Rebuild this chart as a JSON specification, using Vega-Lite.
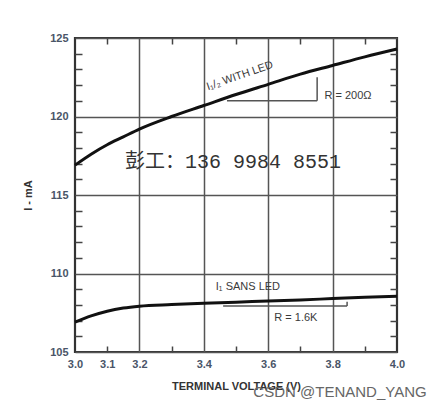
{
  "$schema": "https://vega.github.io/schema/vega-lite/v6.json",
  "width": 322,
  "height": 314,
  "autosize": {"type": "none"},
  "padding": {"left": 75, "top": 38, "right": 47, "bottom": 54},
  "background": "white",
  "config": {
    "view": {"stroke": "#333333", "strokeWidth": 2.2},
    "axis": {
      "labelFont": "Liberation Sans", "labelFontWeight": "bold", "labelFontSize": 11, "labelColor": "#4a5568", "labelFlush": false, "labelOverlap": false,
      "titleFont": "Liberation Sans", "titleFontWeight": "bold", "titleFontSize": 11, "titleColor": "#333333",
      "gridColor": "#555555", "gridWidth": 1.5, "gridOpacity": 1,
      "tickColor": "#444444", "tickWidth": 1.5
    }
  },
  "datasets": {
    "curves": [
      {"series": "I1/2", "v": 3.0, "i": 116.9}, {"series": "I1/2", "v": 3.05, "i": 117.6}, {"series": "I1/2", "v": 3.1, "i": 118.2},
      {"series": "I1/2", "v": 3.15, "i": 118.7}, {"series": "I1/2", "v": 3.2, "i": 119.2}, {"series": "I1/2", "v": 3.3, "i": 120.0},
      {"series": "I1/2", "v": 3.4, "i": 120.7}, {"series": "I1/2", "v": 3.5, "i": 121.4}, {"series": "I1/2", "v": 3.6, "i": 122.05},
      {"series": "I1/2", "v": 3.7, "i": 122.7}, {"series": "I1/2", "v": 3.8, "i": 123.25}, {"series": "I1/2", "v": 3.9, "i": 123.8},
      {"series": "I1/2", "v": 4.0, "i": 124.3},
      {"series": "I1", "v": 3.0, "i": 106.9}, {"series": "I1", "v": 3.05, "i": 107.3}, {"series": "I1", "v": 3.1, "i": 107.6},
      {"series": "I1", "v": 3.15, "i": 107.8}, {"series": "I1", "v": 3.2, "i": 107.92}, {"series": "I1", "v": 3.3, "i": 108.02},
      {"series": "I1", "v": 3.4, "i": 108.1}, {"series": "I1", "v": 3.5, "i": 108.17}, {"series": "I1", "v": 3.6, "i": 108.25},
      {"series": "I1", "v": 3.7, "i": 108.32}, {"series": "I1", "v": 3.8, "i": 108.4}, {"series": "I1", "v": 3.9, "i": 108.48},
      {"series": "I1", "v": 4.0, "i": 108.55}
    ],
    "brackets": [
      {"x1": 3.472, "x2": 3.752, "y1": 121.0, "y2": 121.0},
      {"x1": 3.752, "x2": 3.752, "y1": 121.0, "y2": 122.5},
      {"x1": 3.46, "x2": 3.845, "y1": 107.93, "y2": 107.93},
      {"x1": 3.845, "x2": 3.845, "y1": 107.93, "y2": 108.2}
    ],
    "notes": [
      {"x": 3.848, "y": 121.31, "label": "R = 200Ω"},
      {"x": 3.537, "y": 109.14, "label": "I₁ SANS LED"},
      {"x": 3.686, "y": 107.17, "label": "R = 1.6K"}
    ],
    "rotnote": [{"x": 3.512, "y": 122.58, "label": "I₁/₂ WITH LED"}],
    "wm1": [{"x": 3.491, "y": 117.1, "label": "彭工：136 9984 8551"}],
    "wm2": [{"x": 3.823, "y": 102.45, "label": "CSDN @TENAND_YANG"}]
  },
  "resolve": {"axis": {"x": "independent", "y": "independent"}},
  "layer": [
    {
      "data": {"name": "curves"},
      "mark": {"type": "line", "color": "#111111", "strokeWidth": 3, "interpolate": "monotone"},
      "encoding": {
        "x": {"field": "v", "type": "quantitative", "scale": {"domain": [3, 4], "nice": false, "zero": false},
          "axis": {"orient": "bottom", "values": [3.0, 3.1, 3.2, 3.4, 3.6, 3.8, 4.0], "format": ".1f", "ticks": false, "grid": false, "domain": false,
            "labelPadding": 6, "title": "TERMINAL VOLTAGE (V)", "titlePadding": 11}},
        "y": {"field": "i", "type": "quantitative", "scale": {"domain": [105, 125], "nice": false, "zero": false},
          "axis": {"orient": "left", "values": [105, 110, 115, 120, 125], "ticks": false, "grid": true, "domain": false,
            "labelPadding": 7, "title": "I - mA", "titlePadding": 16}},
        "detail": {"field": "series"}
      }
    },
    {
      "data": {"name": "notes"},
      "mark": {"type": "text", "font": "Liberation Sans", "fontSize": 11, "color": "#3a3a3a"},
      "encoding": {
        "x": {"field": "x", "type": "quantitative", "scale": {"domain": [3, 4], "nice": false, "zero": false},
          "axis": {"orient": "bottom", "values": [3.2, 3.4, 3.6, 3.8], "grid": true, "labels": false, "ticks": false, "domain": false, "title": null}},
        "y": {"field": "y", "type": "quantitative", "scale": {"domain": [105, 125], "nice": false, "zero": false},
          "axis": {"orient": "left", "values": [106, 107, 108, 109, 111, 112, 113, 114, 116, 117, 118, 119, 121, 122, 123, 124],
            "ticks": true, "tickSize": -7, "labels": false, "grid": false, "domain": false, "title": null}},
        "text": {"field": "label"}
      }
    },
    {
      "data": {"name": "brackets"},
      "mark": {"type": "rule", "color": "#555555", "strokeWidth": 1.5},
      "encoding": {
        "x": {"field": "x1", "type": "quantitative", "scale": {"domain": [3, 4], "nice": false, "zero": false},
          "axis": {"orient": "bottom", "values": [3.1, 3.3, 3.5, 3.7, 3.9], "ticks": true, "tickSize": -6, "labels": false, "grid": false, "domain": false, "title": null}},
        "x2": {"field": "x2"},
        "y": {"field": "y1", "type": "quantitative", "scale": {"domain": [105, 125], "nice": false, "zero": false},
          "axis": {"orient": "right", "values": [106, 107, 108, 109, 111, 112, 113, 114, 116, 117, 118, 119, 121, 122, 123, 124],
            "ticks": true, "tickSize": -7, "labels": false, "grid": false, "domain": false, "title": null}},
        "y2": {"field": "y2"}
      }
    },
    {
      "data": {"name": "rotnote"},
      "mark": {"type": "text", "font": "Liberation Sans", "fontSize": 11, "color": "#3a3a3a", "angle": -19},
      "encoding": {
        "x": {"field": "x", "type": "quantitative", "scale": {"domain": [3, 4], "nice": false, "zero": false},
          "axis": {"orient": "top", "values": [3.1, 3.3, 3.5, 3.7, 3.9], "ticks": true, "tickSize": -6, "labels": false, "grid": false, "domain": false, "title": null}},
        "y": {"field": "y", "type": "quantitative", "scale": {"domain": [105, 125], "nice": false, "zero": false}, "axis": null},
        "text": {"field": "label"}
      }
    },
    {
      "data": {"name": "wm1"},
      "mark": {"type": "text", "font": "Liberation Mono, Noto Sans CJK SC", "fontSize": 20, "color": "#333333"},
      "encoding": {
        "x": {"field": "x", "type": "quantitative", "scale": {"domain": [3, 4], "nice": false, "zero": false}, "axis": null},
        "y": {"field": "y", "type": "quantitative", "scale": {"domain": [105, 125], "nice": false, "zero": false}, "axis": null},
        "text": {"field": "label"}
      }
    },
    {
      "data": {"name": "wm2"},
      "mark": {"type": "text", "font": "Liberation Sans", "fontSize": 15, "color": "#666666"},
      "encoding": {
        "x": {"field": "x", "type": "quantitative", "scale": {"domain": [3, 4], "nice": false, "zero": false}, "axis": null},
        "y": {"field": "y", "type": "quantitative", "scale": {"domain": [105, 125], "nice": false, "zero": false}, "axis": null},
        "text": {"field": "label"}
      }
    }
  ]
}
